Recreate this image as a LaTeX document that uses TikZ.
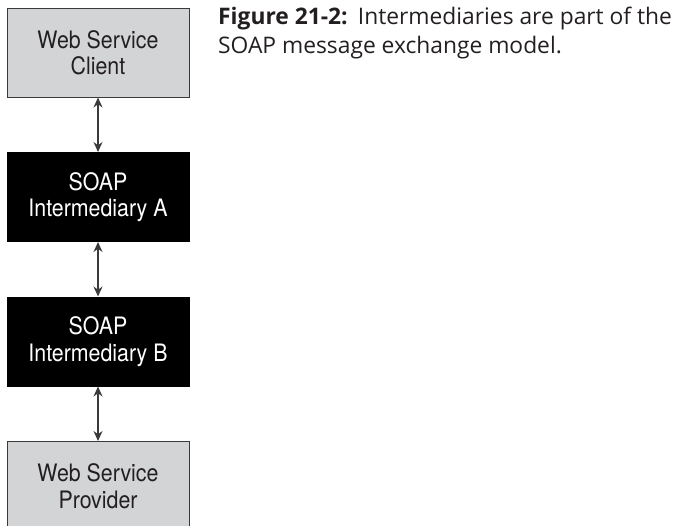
\documentclass[tikz,border=0pt]{standalone}
\usepackage{fontspec}
\setmainfont{TeX Gyre Heros}
\newfontfamily\boxfont[FakeStretch=0.89]{TeX Gyre Heros}
\newfontfamily\capfont{Open Sans}
\usetikzlibrary{arrows.meta}
\definecolor{boxgray}{HTML}{D3D4D6}
\definecolor{edgegray}{HTML}{3A3A3A}
\definecolor{txtdark}{HTML}{231F20}
\begin{document}
\begin{tikzpicture}[x=1pt,y=-1pt,
  lightbox/.style={draw=edgegray, line width=1pt, fill=boxgray, text=txtdark,
    minimum width=182pt, minimum height=89pt, inner sep=0pt, align=center,
    font=\boxfont\fontsize{24}{26.5}\selectfont},
  darkbox/.style={lightbox, fill=black, draw=black, text=white},
  link/.style={draw=edgegray, line width=1.3pt,
    {Stealth[length=10pt,width=9pt]}-{Stealth[length=10pt,width=9pt]}},
  captext/.style={anchor=base west, inner sep=0pt,
    font=\capfont\fontsize{22.8}{28}\selectfont, text=txtdark}]
\clip (0,0) rectangle (677,525);
\node[lightbox] (client) at (98,52.5) {Web Service\\Client};
\node[darkbox] (interA) at (98,197) {SOAP\\Intermediary A};
\node[darkbox] (interB) at (98,341.5) {SOAP\\Intermediary B};
\node[lightbox] (provider) at (98,486) {Web Service\\Provider};
\draw[link] (client) -- (interA);
\draw[link] (interA) -- (interB);
\draw[link] (interB) -- (provider);
\node[captext] (cap1) at (218,24.5) {\textbf{Figure 21-2:}\hspace{0.45em}Intermediaries are part of the};
\node[captext] (cap2) at (218,53) {SOAP message exchange model.};
\end{tikzpicture}
\end{document}
